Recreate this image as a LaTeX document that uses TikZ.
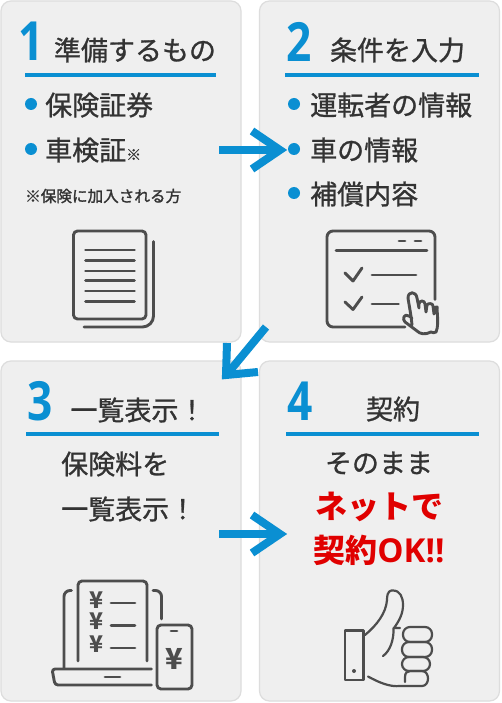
\documentclass[tikz,border=0pt]{standalone}
\usepackage{fontspec}
\setmainfont{Noto Sans CJK JP}
\newfontfamily\medfont[FakeBold=1.0]{Noto Sans CJK JP}
\newfontfamily\notefont[FakeBold=1.6]{Noto Sans CJK JP}
\newfontfamily\numfont{Open Sans}
\usetikzlibrary{arrows.meta}
\definecolor{blu}{HTML}{0A8FD2}
\definecolor{ink}{HTML}{333333}
\definecolor{ico}{HTML}{4D4D4D}
\definecolor{pan}{HTML}{EFEFEF}
\definecolor{edg}{HTML}{DDDDDD}
\definecolor{redt}{HTML}{E00000}
\newcommand{\fs}[1]{\fontsize{#1}{#1}\selectfont}
\tikzset{
 panel/.style={draw=edg,fill=pan,line width=1.2pt,rounded corners=10pt,outer sep=0},
 rule/.style={draw=blu,line width=4pt},
 numtxt/.style={text=blu,inner sep=0,font=\numfont\fs{54}\bfseries,xscale=.82},
 title/.style={text=ink,inner sep=0,font=\medfont\fs{27},anchor=center},
 item/.style={text=ink,inner sep=0,font=\medfont\fs{27},anchor=west},
 bul/.style={fill=blu,circle,inner sep=0,minimum size=12pt},
 red/.style={text=redt,inner sep=0,font=\fs{32}\bfseries},
 flow/.style={draw=blu,line width=8pt,line join=miter},
 icon/.style={draw=ico,line width=2.9pt,line cap=round,line join=round},
 thin/.style={draw=ico,line width=2.2pt,line cap=round,line join=round},
}
\begin{document}
\begin{tikzpicture}[x=1pt,y=-1pt]
\useasboundingbox (0,0) rectangle (501,703);
\fill[white] (0,0) rectangle (501,703);
\node[panel,minimum width=240pt,minimum height=341pt,inner sep=0,anchor=north west] (p1) at (1,1) {};
\node[panel,minimum width=240pt,minimum height=341pt,inner sep=0,anchor=north west] (p2) at (259.5,1) {};
\node[panel,minimum width=240pt,minimum height=340pt,inner sep=0,anchor=north west] (p3) at (1,361) {};
\node[panel,minimum width=240pt,minimum height=340pt,inner sep=0,anchor=north west] (p4) at (259.5,361) {};
% headings
\node[numtxt] (n1) at (31,41.5) {1};
\node[numtxt] (n2) at (299,41.5) {2};
\node[numtxt] (n3) at (40,401.5) {3};
\node[numtxt] (n4) at (300,401.5) {4};
\node[title] (t1) at (135,50) {準備するもの};
\node[title] (t2) at (397.5,50) {条件を入力};
\node[title] (t3) at (138,410) {一覧表示！};
\node[title] (t4) at (393,409) {契約};
\draw[rule] (25,75) -- (216,75);
\draw[rule] (285,75) -- (479,75);
\draw[rule] (26,434) -- (219,434);
\draw[rule] (286,434) -- (479,434);
% panel 1
\node[bul] (b1) at (31,104) {};
\node[bul] (b2) at (31,149) {};
\node[item] (i1) at (45,105) {保険証券};
\node[item] (i2) at (45,150) {車検証\fs{15}※};
\node[item,font=\notefont\fs{15.6}] (i3) at (25,196) {※保険に加入される方};
% panel 2
\node[bul] (b3) at (294,104) {};
\node[bul] (b4) at (294,149) {};
\node[bul] (b5) at (294,193) {};
\node[item] (i4) at (310,105) {運転者の情報};
\node[item] (i5) at (310,150) {車の情報};
\node[item] (i6) at (310,194) {補償内容};
% panel 3
\node[item] (i7) at (61,464) {保険料を};
\node[item] (i8) at (61,509) {一覧表示！};
% panel 4
\node[title] (i9) at (379,463) {そのまま};
\node[red] (r1) at (379,507) {ネットで};
\node[red] (r2) at (379,550) {契約{\numfont\fs{33}OK!!}};
% arrows
\coordinate (a1s) at (219,150); \coordinate (a1e) at (280,150);
\coordinate (a2s) at (266,327); \coordinate (a2e) at (228,373);
\coordinate (a3s) at (219,534); \coordinate (a3e) at (280,534);
\draw[flow] (a1s) -- (a1e);
\draw[flow] (252,131) -- (a1e) -- (252,169);
\draw[flow] (a2s) -- (a2e);
\draw[flow] (227,343) -- (226,375) -- (258,372);
\draw[flow] (a3s) -- (a3e);
\draw[flow] (252,515) -- (a3e) -- (252,553);
% document icon
\draw[icon,rounded corners=4pt] (73.5,231) rectangle (146,319);
\foreach \y in {250,260.5,271,280.5,291,301.5} \draw[icon] (85.5,\y) -- (134.5,\y);
\draw[icon,rounded corners=11pt] (153.5,241.5) -- (153.5,327) -- (84,327);
% window icon
\draw[icon,rounded corners=6pt] (435,299.5) -- (435,231) -- (327,231) -- (327,327) -- (405,327);
\draw[icon] (336,250.5) -- (427,250.5);
\draw[icon] (399,241) -- (405,241);
\draw[icon] (415,241) -- (421,241);
\draw[icon] (345,273) -- (353,281) -- (362,268);
\draw[icon] (372,275) -- (416,275);
\draw[icon] (345,302) -- (353,309.5) -- (362,297);
\draw[icon] (372,304) -- (398.5,304);
\draw[icon] (412,325) .. controls (411,314) and (409,305) .. (408,298)
  .. controls (408,291) and (416,291) .. (417,298)
  -- (419,308) -- (419,304) .. controls (419,300) and (425,300) .. (425,304) -- (426,312)
  -- (427,305) .. controls (428,303) and (433,303) .. (433,306) -- (434,314)
  -- (435,309) .. controls (436,306) and (438,306) .. (437,309)
  .. controls (438,320) and (438,328) .. (436,332)
  .. controls (434,332) and (433,334) .. (431,332)
  .. controls (425,335) and (420,334) .. (417,331)
  -- (405,322) .. controls (402,319) and (404,313) .. (409,316) -- (412,318);
% laptop icon
\draw[icon,rounded corners=4pt] (78,661) -- (78,581) -- (147,581) -- (147,661);
\foreach \y in {603,625.5,648} \draw[icon] (111,\y) -- (135,\y);
\node[text=ico,inner sep=0,font=\fs{23}\bfseries] (y1) at (96.5,600.5) {¥};
\node[text=ico,inner sep=0,font=\fs{23}\bfseries] (y2) at (96.5,621.5) {¥};
\node[text=ico,inner sep=0,font=\fs{23}\bfseries] (y3) at (96.5,644) {¥};
\draw[icon,rounded corners=6pt] (64,668) -- (64,590.5) -- (71.5,590.5);
\draw[icon,rounded corners=6pt] (153,590.5) -- (161.5,590.5) -- (161.5,619);
\draw[icon,rounded corners=3pt] (151.5,669) -- (52,669) -- (55,685) -- (151.5,685);
\draw[icon] (105,677) -- (120,677);
\draw[icon,rounded corners=4pt] (157,625) rectangle (192,689);
\draw[icon] (171,631) -- (177,631);
\node[text=ico,inner sep=0,font=\fs{29}\bfseries] (y4) at (174,659) {¥};
% thumb icon
\draw[thin] (345,630.5) rectangle (363.5,680);
\fill[ico] (354,671) circle (2pt);
\draw[thin] (365,635) .. controls (377,625) and (386,613) .. (387,600)
 .. controls (387,590) and (391,590.5) .. (393,590.5)
 .. controls (400,590.5) and (403,597) .. (403,605)
 .. controls (403,614) and (399,621) .. (394,628)
 -- (400,628);
\draw[thin] (393.5,628) .. controls (394,640) and (390,651) .. (383,656);
\draw[thin,rounded corners=7pt] (403,627) rectangle (432,642);
\draw[thin,rounded corners=7pt] (402,642) rectangle (432,657);
\draw[thin,rounded corners=7pt] (402,657) rectangle (430,671);
\draw[thin] (405,682) -- (405,677) .. controls (405,673) and (407,671) .. (410,671)
 -- (422,671) .. controls (430,671) and (430,686) .. (422,686) -- (400,686)
 .. controls (390,687) and (380,683) .. (368,676.5);
\end{tikzpicture}
\end{document}
